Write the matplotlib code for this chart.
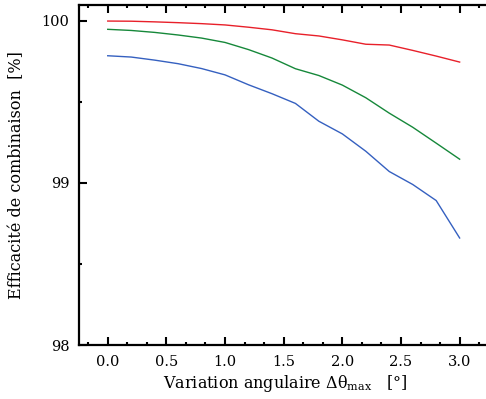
import matplotlib
matplotlib.use("Agg")
import matplotlib.pyplot as plt
from matplotlib.ticker import MultipleLocator

x = [0.0, 0.2, 0.4, 0.6, 0.8, 1.0, 1.2, 1.4, 1.6, 1.8, 2.0, 2.2, 2.4, 2.6, 2.8, 3.0]
red = [99.998, 99.997, 99.993, 99.988, 99.982, 99.974, 99.960, 99.944, 99.920,
       99.906, 99.882, 99.855, 99.850, 99.817, 99.782, 99.745]
green = [99.947, 99.940, 99.928, 99.912, 99.893, 99.866, 99.822, 99.770, 99.704,
         99.662, 99.603, 99.525, 99.430, 99.343, 99.245, 99.146]
blue = [99.784, 99.776, 99.757, 99.735, 99.705, 99.666, 99.605, 99.550, 99.490,
        99.380, 99.302, 99.195, 99.070, 98.990, 98.891, 98.660]

xticks = [0.0, 0.5, 1.0, 1.5, 2.0, 2.5, 3.0]
xticklabels = ["0.0", "0.5", "1.0", "1.5", "2.0", "2.5", "3.0"]
yticks = [98, 99, 100]
yticklabels = ["98", "99", "100"]

plt.rcParams['font.family'] = ['DejaVu Serif']
plt.rcParams['mathtext.fontset'] = 'dejavuserif'

fig = plt.figure(figsize=(4.86, 3.99), dpi=100)
# axes extend past the right edge of the figure, as in the reference
x0, x1 = -0.245, 3.27
ax_w = (x1 - x0) * 117.3
ax = fig.add_axes([79/486, 54/399, ax_w/486, 340/399])

ax.plot(x, red, color='#e8202a', lw=1.0)
ax.plot(x, green, color='#16883a', lw=1.0)
ax.plot(x, blue, color='#3560c0', lw=1.0)

ax.set_xlim(x0, x1)
ax.set_ylim(98, 100.097)
ax.set_xticks(xticks)
ax.set_xticklabels(xticklabels)
ax.set_yticks(yticks)
ax.set_yticklabels(yticklabels)
ax.xaxis.set_minor_locator(MultipleLocator(0.5/3))
ax.yaxis.set_minor_locator(MultipleLocator(0.5))

for s in ax.spines.values():
    s.set_linewidth(1.6)
ax.spines['right'].set_visible(False)
ax.tick_params(which='both', direction='in', top=True, right=False,
               labelsize=10.5, pad=7)
ax.tick_params(which='major', length=5.5, width=1.5)
ax.tick_params(which='minor', length=2.5, width=1.5)

ax.set_xlabel('Variation angulaire Δθ$_{\\mathrm{max}}$   [°]', fontsize=11.5, labelpad=3)
ax.set_ylabel('Efficacité de combinaison  [%]', fontsize=11.5, labelpad=12)

fig.savefig('out.png', dpi=100)
